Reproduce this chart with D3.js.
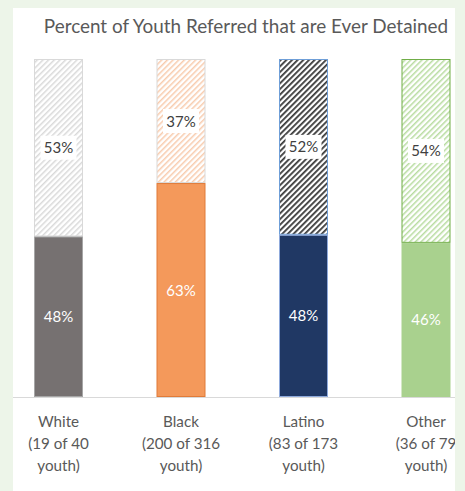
<!DOCTYPE html>
<html>
<head>
<meta charset="utf-8">
<script src="https://cdn.jsdelivr.net/npm/d3@7"></script>
<style>
  body { margin: 0; background: #edf5e9; }
  svg { display: block; }
</style>
</head>
<body>
<div id="canva"></div>
<script>
const groups = ['White', 'Black', 'Latino', 'Other'];
const countLabels = ['(19 of 40', '(200 of 316', '(83 of 173', '(36 of 79'];
const detained = [47.5, 63.3, 48.0, 45.6];
const notDetained = [52.5, 36.7, 52.0, 54.4];

const fills = ['#767171', '#f4995b', '#203864', '#a9d18e'];
const solidStroke = ['#a6a6a6', '#e07b39', '#8faadc', '#a9d18e'];
const hatchColor = ['#d9d9d9', '#f8cbad', '#3a3a3a', '#b8dca0'];
const hatchStroke = ['#d9d9d9', '#d9d9d9', '#6f9fd8', '#70ad47'];

const width = 465, height = 491;
const font = 'Lato, "Open Sans", sans-serif';

const svg = d3.select('#canva').append('svg')
    .attr('width', width)
    .attr('height', height);

// white chart panel
svg.append('rect')
    .attr('x', 13).attr('y', 8)
    .attr('width', 442).attr('height', height)
    .attr('fill', '#fff');

const defs = svg.append('defs');
defs.append('clipPath').attr('id', 'panel')
    .append('rect').attr('x', 13).attr('y', 8).attr('width', 442).attr('height', height);

groups.forEach((g, i) => {
    const p = defs.append('pattern')
        .attr('id', 'hatch' + i)
        .attr('patternUnits', 'userSpaceOnUse')
        .attr('width', 4).attr('height', 4)
        .attr('patternTransform', 'rotate(45)');
    p.append('rect').attr('width', 4).attr('height', 4).attr('fill', '#fff');
    p.append('rect').attr('x', 0).attr('width', i == 2 ? 1.8 : 1.5).attr('height', 4)
        .attr('fill', hatchColor[i]);
});

svg.append('text')
    .attr('x', 246).attr('y', 33)
    .attr('text-anchor', 'middle')
    .attr('font-family', font)
    .attr('font-size', 18.9)
    .attr('fill', '#595959')
    .text('Percent of Youth Referred that are Ever Detained');

const x = d3.scaleBand()
    .domain(groups)
    .range([-2.75, 487.25])
    .paddingInner(0.6)
    .paddingOuter(0.3);

const y = d3.scaleLinear()
    .domain([0, 100])
    .range([397, 59]);

const chart = svg.append('g').attr('clip-path', 'url(#panel)');

// baseline
chart.append('line')
    .attr('x1', 13).attr('x2', 455)
    .attr('y1', y(0) + 0.5).attr('y2', y(0) + 0.5)
    .attr('stroke', '#d9d9d9');

const bars = chart.selectAll('g.bar')
    .data(groups)
    .enter()
    .append('g')
    .attr('class', 'bar');

bars.append('rect')
    .attr('x', d => x(d) + 0.5)
    .attr('y', (d, i) => y(detained[i] + notDetained[i]) + 0.5)
    .attr('width', x.bandwidth() - 1)
    .attr('height', (d, i) => y(detained[i]) - y(detained[i] + notDetained[i]) - 1)
    .attr('fill', (d, i) => `url(#hatch${i})`)
    .attr('stroke', (d, i) => hatchStroke[i]);

bars.append('rect')
    .attr('x', d => x(d) + 0.5)
    .attr('y', (d, i) => y(detained[i]) + 0.5)
    .attr('width', x.bandwidth() - 1)
    .attr('height', (d, i) => y(0) - y(detained[i]) - 1)
    .attr('fill', (d, i) => fills[i])
    .attr('stroke', (d, i) => solidStroke[i]);

// labels on the solid part
bars.append('text')
    .attr('x', d => x(d) + x.bandwidth() / 2)
    .attr('y', (d, i) => y(detained[i] / 2) + 5.5)
    .attr('text-anchor', 'middle')
    .attr('font-family', font)
    .attr('font-size', 15)
    .attr('fill', '#fff')
    .text((d, i) => Math.round(detained[i]) + '%');

// labels on the hatched part, with white boxes
bars.append('rect')
    .attr('x', d => x(d) + x.bandwidth() / 2 - 18)
    .attr('y', (d, i) => y(detained[i] + notDetained[i] / 2) - 12)
    .attr('width', 36).attr('height', 24)
    .attr('fill', '#fff');

bars.append('text')
    .attr('x', d => x(d) + x.bandwidth() / 2)
    .attr('y', (d, i) => y(detained[i] + notDetained[i] / 2) + 5.5)
    .attr('text-anchor', 'middle')
    .attr('font-family', font)
    .attr('font-size', 15)
    .attr('fill', '#404040')
    .text((d, i) => Math.round(notDetained[i]) + '%');

// category labels
const cat = chart.selectAll('text.cat')
    .data(groups)
    .enter()
    .append('text')
    .attr('class', 'cat')
    .attr('text-anchor', 'middle')
    .attr('font-family', font)
    .attr('font-size', 15.2)
    .attr('fill', '#595959');

cat.append('tspan')
    .attr('x', d => x(d) + x.bandwidth() / 2).attr('y', 427)
    .text(d => d);
cat.append('tspan')
    .attr('x', d => x(d) + x.bandwidth() / 2).attr('y', 449)
    .text((d, i) => countLabels[i]);
cat.append('tspan')
    .attr('x', d => x(d) + x.bandwidth() / 2).attr('y', 471)
    .text('youth)');
</script>
</body>
</html>
